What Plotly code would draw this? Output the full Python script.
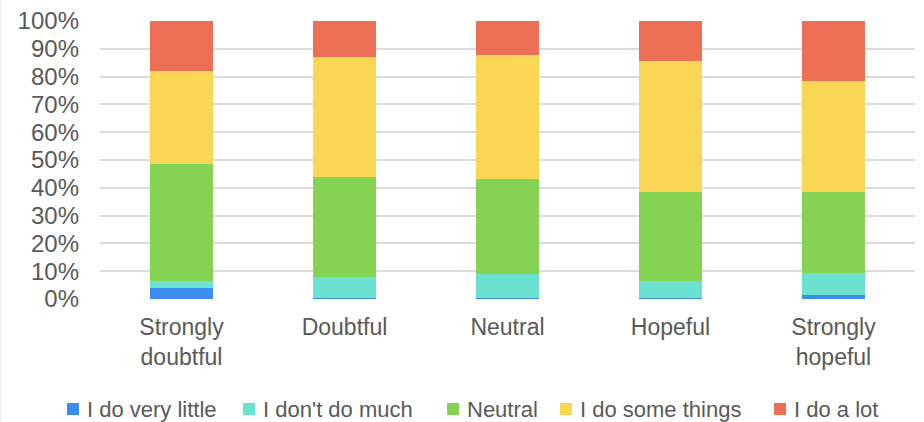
import plotly.graph_objects as go

categories = ["Strongly<br>doubtful", "Doubtful", "Neutral", "Hopeful", "Strongly<br>hopeful"]

# Share of respondents in each response group (percent)
very_little = [4.0, 0.5, 0.5, 0.5, 1.5]
not_much = [2.6, 7.3, 8.6, 6.1, 8.0]
neutral = [41.8, 36.0, 34.1, 32.0, 29.1]
some_things = [33.7, 43.4, 44.6, 47.1, 39.9]
a_lot = [17.9, 12.8, 12.2, 14.3, 21.5]

series_names = ["I do very little", "I don't do much", "Neutral", "I do some things", "I do a lot"]
series_values = [very_little, not_much, neutral, some_things, a_lot]
series_colors = ["#3B8EEF", "#6BE2CF", "#84D352", "#F9D653", "#EC6F56"]

tick_vals = [i / 10 for i in range(11)]
tick_text = [f"{i * 10}%" for i in range(11)]

# Plot-area geometry in pixels, used to place the hand-drawn legend row
W, H = 924, 422
ML, MR, MT, MB = 100, 9, 21, 123
PW, PH = W - ML - MR, H - MT - MB
legend_y = 409
legend_text_x = [85, 261, 465, 578, 792]
swatch = 12


def px_x(x):
    return (x - ML) / PW


def px_y(y):
    return (H - MB - y) / PH


fig = go.Figure()
for name, vals, color in zip(series_names, series_values, series_colors):
    fig.add_trace(go.Bar(
        x=categories,
        y=[v / 100 for v in vals],
        name=name,
        marker=dict(color=color, line=dict(width=0)),
        showlegend=False,
    ))

shapes = [dict(
    type="line", xref="paper", yref="paper",
    x0=px_x(1), x1=px_x(1), y0=px_y(H), y1=px_y(0),
    line=dict(color="#E6E6E6", width=1),
)]
annotations = []
for name, color, tx in zip(series_names, series_colors, legend_text_x):
    shapes.append(dict(
        type="rect", xref="paper", yref="paper",
        x0=px_x(tx - 6 - swatch), x1=px_x(tx - 6),
        y0=px_y(legend_y + swatch / 2), y1=px_y(legend_y - swatch / 2),
        fillcolor=color, line=dict(width=0),
    ))
    annotations.append(dict(
        text=name, xref="paper", yref="paper",
        x=px_x(tx), y=px_y(legend_y),
        xanchor="left", yanchor="middle", showarrow=False,
        font=dict(size=22, color="#595959"),
    ))

fig.update_layout(
    barmode="stack",
    bargap=0.61,
    width=W,
    height=H,
    margin=dict(l=ML, r=MR, t=MT, b=MB, autoexpand=False),
    paper_bgcolor="white",
    plot_bgcolor="white",
    font=dict(family="Liberation Sans, Arial, sans-serif", size=22, color="#595959"),
    showlegend=False,
    xaxis=dict(
        showgrid=False,
        showline=False,
        ticks="",
        ticklabelstandoff=12,
        tickfont=dict(size=23),
    ),
    yaxis=dict(
        range=[0, 1],
        tickvals=tick_vals,
        ticktext=tick_text,
        showgrid=True,
        gridcolor="#DCDCDC",
        gridwidth=1.5,
        zeroline=False,
        showline=False,
        ticks="",
        ticklabelstandoff=20,
        tickfont=dict(size=24),
    ),
    shapes=shapes,
    annotations=annotations,
)

fig.write_html("out.html")
